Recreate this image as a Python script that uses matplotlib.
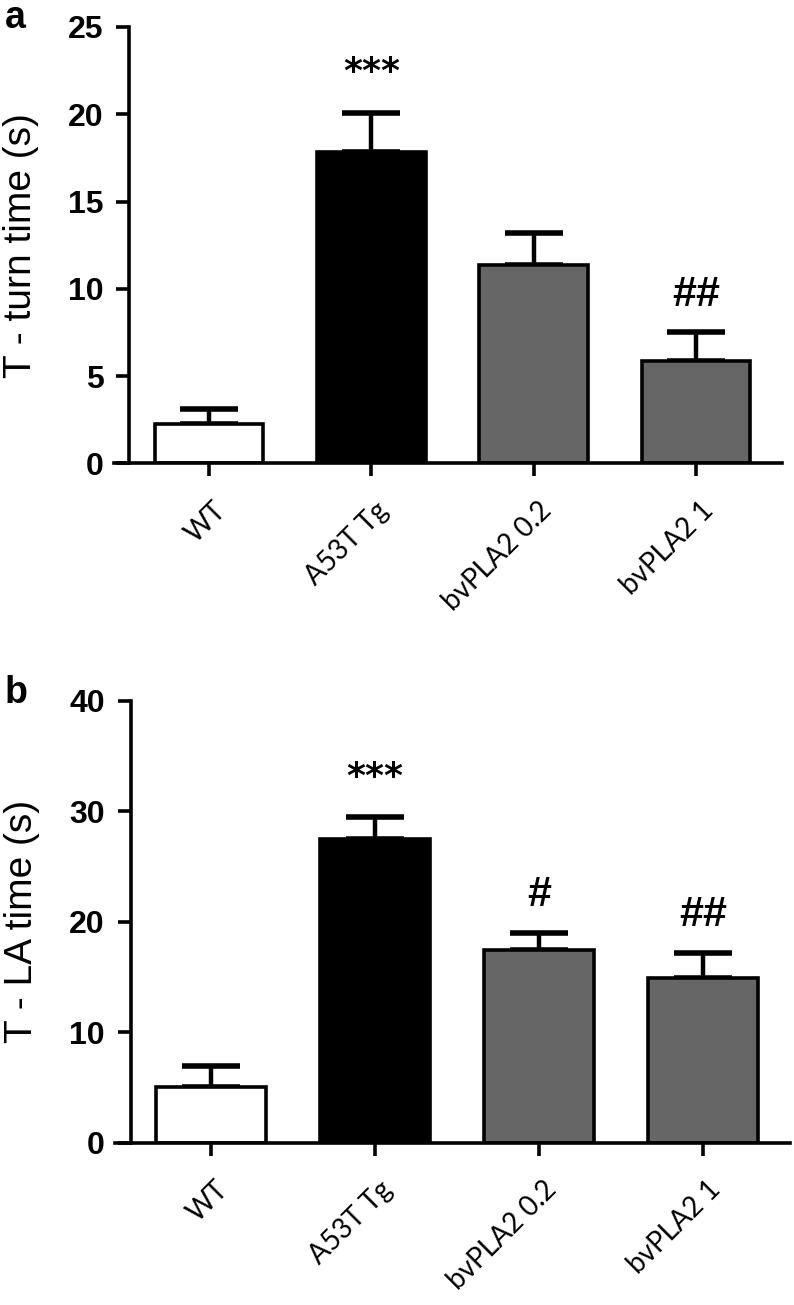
import matplotlib
matplotlib.use("Agg")
import matplotlib.pyplot as plt
import matplotlib.transforms as mtransforms
import numpy as np

groups = ["WT", "A53T Tg", "bvPLA2 0.2", "bvPLA2 1"]
bar_colors = ["white", "black", "#666666", "#666666"]

turn_mean = [2.26, 17.84, 11.37, 5.87]
turn_sem = [0.86, 2.26, 1.83, 1.66]
turn_marks = ["", "***", "", "##"]

la_mean = [5.03, 27.5, 17.45, 14.9]
la_sem = [1.9, 2.0, 1.55, 2.3]
la_marks = ["", "***", "#", "##"]

W, H = 794, 1305
fig = plt.figure(figsize=(W / 100, H / 100), dpi=100)


def panel(rect, means, sems, marks, ylabel, ymax, ystep, label_x):
    ax = fig.add_axes(rect)
    x = np.arange(len(groups))
    ax.bar(x, means, width=0.67, color=bar_colors, edgecolor="black", linewidth=2.6, zorder=2)
    ax.errorbar(x, means, yerr=[np.zeros(len(sems)), sems], fmt="none", ecolor="black",
                elinewidth=3.2, capsize=21, capthick=4, zorder=1)
    for xi, m, s, mk in zip(x, means, sems, marks):
        if not mk:
            continue
        if mk.startswith("*"):
            ax.annotate(mk, (xi, m + s), xytext=(0, 29), textcoords="offset points",
                        ha="center", va="center", fontsize=26, fontweight="bold",
                        family="DejaVu Sans")
        else:
            ax.annotate(mk, (xi, m + s), xytext=(0, 27), textcoords="offset points",
                        ha="center", va="center", fontsize=31, fontweight="bold",
                        family="Liberation Sans")

    ax.set_xlim(-0.585, 3.53)
    ax.set_ylim(0, ymax)
    ax.spines["left"].set_position(("data", -0.49))
    for sp in ["top", "right"]:
        ax.spines[sp].set_visible(False)
    for sp in ["left", "bottom"]:
        ax.spines[sp].set_linewidth(2.6)
        ax.spines[sp].set_zorder(3)

    ax.set_yticks(np.arange(0, ymax + 1, ystep))
    ax.tick_params(axis="y", length=9.5, width=2.6, pad=9)
    ax.tick_params(axis="x", length=9.5, width=2.6, pad=15)
    for lab in ax.get_yticklabels():
        lab.set_fontfamily("Liberation Sans")
        lab.set_fontweight("bold")
        lab.set_fontsize(23)

    ax.set_xticks(x)
    ax.set_xticklabels(groups, rotation=45, ha="right", va="top", rotation_mode="anchor",
                       fontsize=20, family="Lato")
    offset = mtransforms.ScaledTranslation(0.04, 0, fig.dpi_scale_trans)
    for lab in ax.get_xticklabels():
        lab.set_transform(lab.get_transform() + offset)

    ax.set_ylabel(ylabel, fontsize=28, family="Liberation Sans")
    ax.yaxis.set_label_coords(label_x, 0.5)
    return ax


ax1 = panel([114 / W, 1 - 463.5 / H, 668 / W, (463.5 - 27) / H],
            turn_mean, turn_sem, turn_marks, "T - turn time (s)", 25, 5, -0.113)
ax2 = panel([115 / W, 1 - 1142.5 / H, 675 / W, (1142.5 - 701) / H],
            la_mean, la_sem, la_marks, "T - LA time (s)", 40, 10, -0.111)

fig.text(5 / W, 1.0, "a", fontsize=27, fontweight="bold", family="Liberation Sans",
         va="top")
fig.text(5 / W, 1 - 675 / H, "b", fontsize=27, fontweight="bold", family="Liberation Sans",
         va="top")

fig.savefig("out.png", dpi=100, facecolor="white")
